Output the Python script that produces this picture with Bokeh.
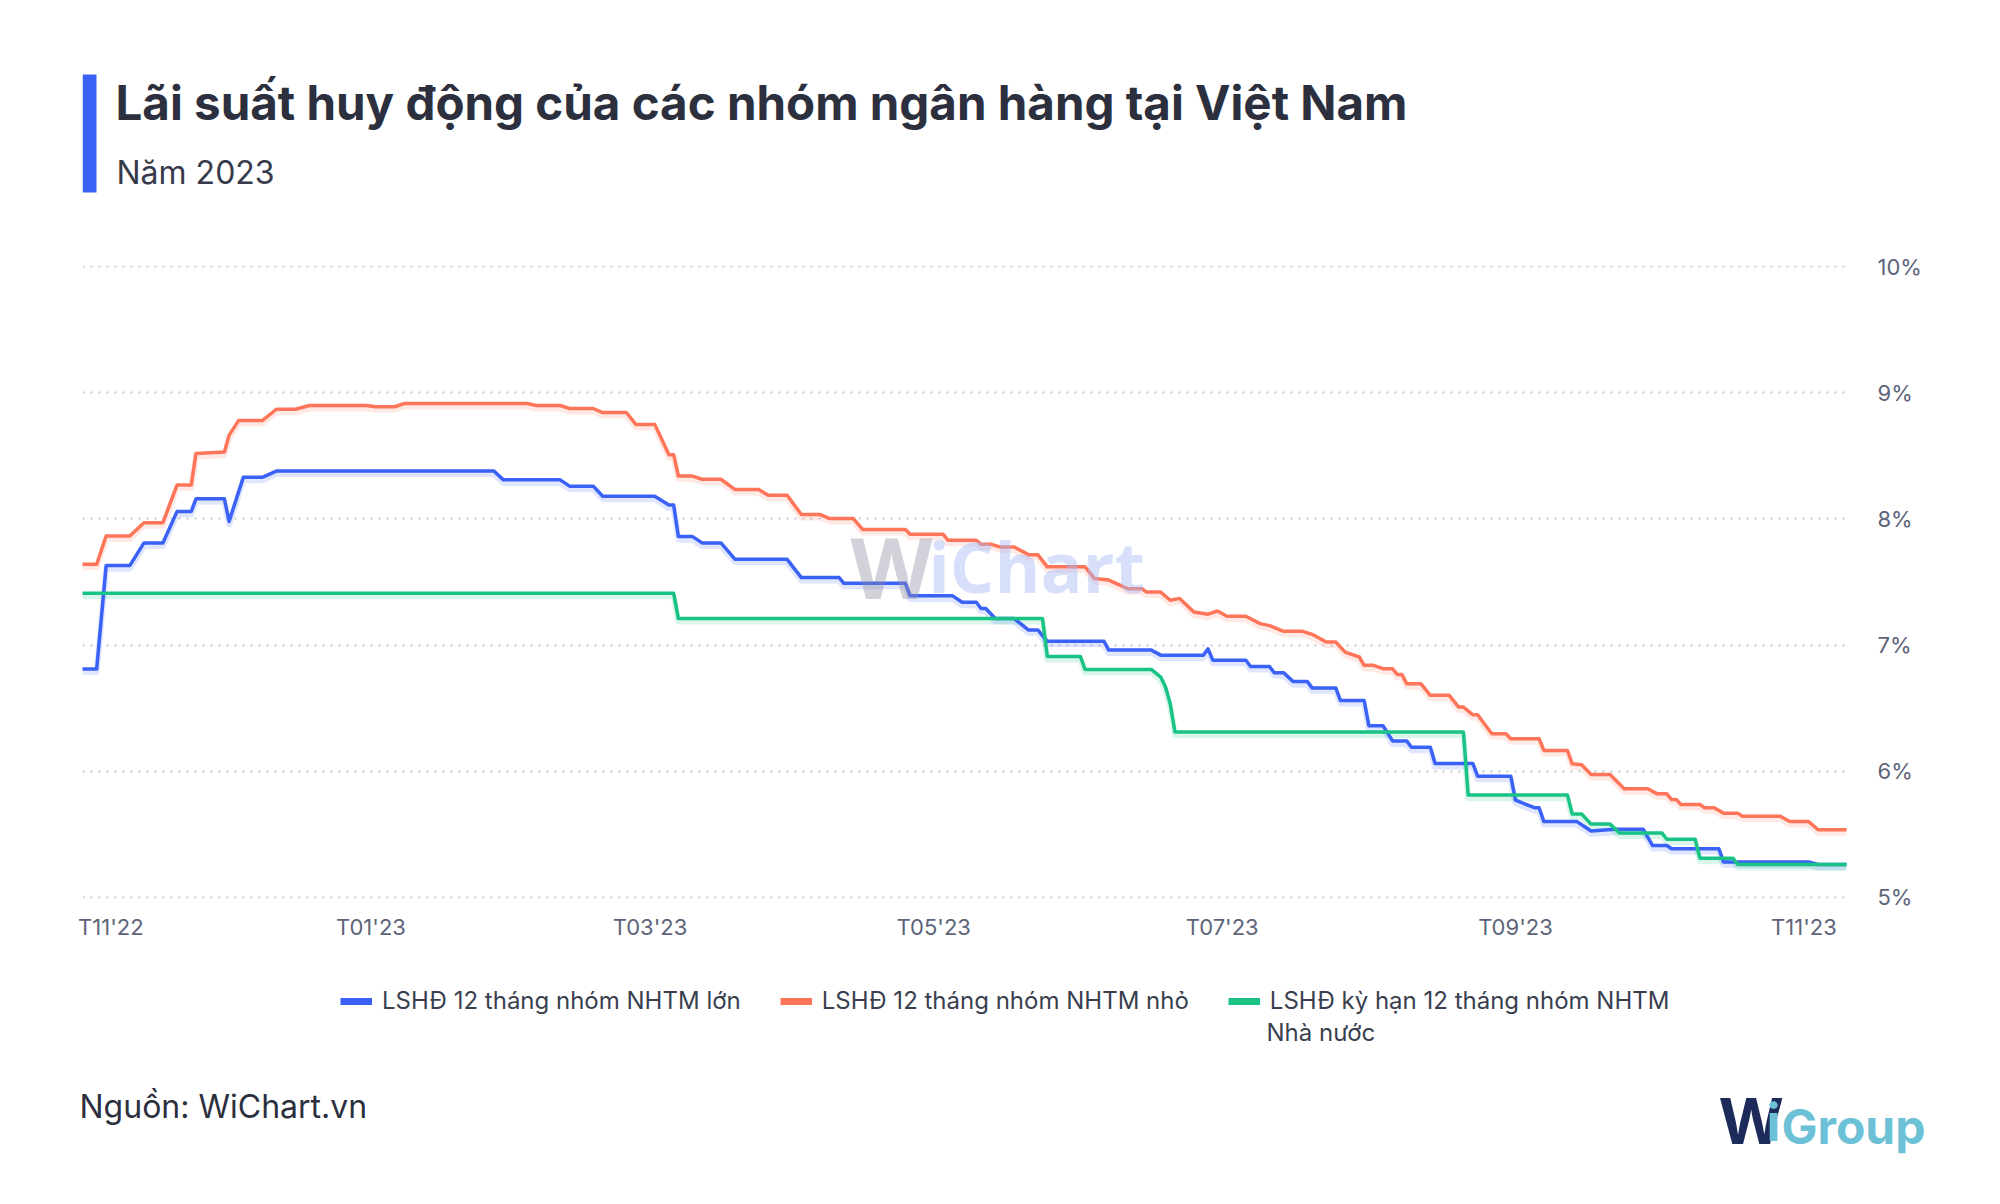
import pandas as pd
from bokeh.plotting import figure
from bokeh.layouts import column, row
from bokeh.models import (Range1d, FixedTicker, PrintfTickFormatter, Legend, LegendItem,
                          Label, BoxAnnotation)
from bokeh.embed import file_html
from bokeh.resources import INLINE

START = "2022-11-01"

# LSHĐ 12 tháng nhóm NHTM lớn
big_dates = ["2022-11-01", "2022-11-04", "2022-11-06", "2022-11-11", "2022-11-14", "2022-11-18",
             "2022-11-21", "2022-11-24", "2022-11-25", "2022-12-01", "2022-12-02", "2022-12-05",
             "2022-12-09", "2022-12-12", "2023-01-27", "2023-01-29", "2023-02-10", "2023-02-12",
             "2023-02-17", "2023-02-19", "2023-03-02", "2023-03-05", "2023-03-06", "2023-03-07",
             "2023-03-10", "2023-03-12", "2023-03-16", "2023-03-19", "2023-03-30", "2023-04-02",
             "2023-04-10", "2023-04-11", "2023-04-24", "2023-04-25", "2023-05-04", "2023-05-06",
             "2023-05-09", "2023-05-10", "2023-05-11", "2023-05-13", "2023-05-17", "2023-05-20",
             "2023-05-22", "2023-05-24", "2023-06-05", "2023-06-06", "2023-06-15", "2023-06-17",
             "2023-06-26", "2023-06-27", "2023-06-28", "2023-07-05", "2023-07-06", "2023-07-10",
             "2023-07-11", "2023-07-13", "2023-07-15", "2023-07-18", "2023-07-19", "2023-07-24",
             "2023-07-25", "2023-07-30", "2023-07-31", "2023-08-03", "2023-08-05", "2023-08-08",
             "2023-08-09", "2023-08-13", "2023-08-14", "2023-08-22", "2023-08-23", "2023-08-30",
             "2023-08-31", "2023-09-04", "2023-09-05", "2023-09-06", "2023-09-13", "2023-09-16",
             "2023-09-21", "2023-09-27", "2023-09-29", "2023-10-02", "2023-10-03", "2023-10-13",
             "2023-10-14", "2023-11-01", "2023-11-03", "2023-11-09"]
big_vals = [6.81, 6.81, 7.63, 7.63, 7.81, 7.81,
            8.06, 8.06, 8.16, 8.16, 7.98, 8.33,
            8.33, 8.38, 8.38, 8.31, 8.31, 8.26,
            8.26, 8.18, 8.18, 8.11, 8.11, 7.86,
            7.86, 7.81, 7.81, 7.68, 7.68, 7.535,
            7.535, 7.49, 7.49, 7.39, 7.39, 7.34,
            7.34, 7.29, 7.29, 7.21, 7.21, 7.12,
            7.12, 7.03, 7.03, 6.96, 6.96, 6.92,
            6.92, 6.97, 6.88, 6.88, 6.83, 6.83,
            6.78, 6.78, 6.71, 6.71, 6.66, 6.66,
            6.56, 6.56, 6.36, 6.36, 6.24, 6.24,
            6.19, 6.19, 6.06, 6.06, 5.96, 5.96,
            5.77, 5.71, 5.71, 5.60, 5.60, 5.525,
            5.54, 5.54, 5.41, 5.41, 5.385, 5.385,
            5.28, 5.28, 5.26, 5.26]

# LSHĐ 12 tháng nhóm NHTM nhỏ
small_dates = ["2022-11-01", "2022-11-04", "2022-11-06", "2022-11-11", "2022-11-14", "2022-11-18",
               "2022-11-21", "2022-11-24", "2022-11-25", "2022-12-01", "2022-12-02", "2022-12-04",
               "2022-12-09", "2022-12-12", "2022-12-16", "2022-12-19", "2022-12-31", "2023-01-02",
               "2023-01-06", "2023-01-08", "2023-02-03", "2023-02-05", "2023-02-10", "2023-02-12",
               "2023-02-17", "2023-02-19", "2023-02-24", "2023-02-26", "2023-03-02", "2023-03-05",
               "2023-03-06", "2023-03-07", "2023-03-10", "2023-03-12", "2023-03-16", "2023-03-19",
               "2023-03-24", "2023-03-26", "2023-03-30", "2023-04-02", "2023-04-06", "2023-04-08",
               "2023-04-13", "2023-04-15", "2023-04-24", "2023-04-25", "2023-05-02", "2023-05-03",
               "2023-05-09", "2023-05-10", "2023-05-12", "2023-05-14", "2023-05-17", "2023-05-18",
               "2023-05-20", "2023-05-22", "2023-05-24", "2023-06-01", "2023-06-03", "2023-06-06",
               "2023-06-10", "2023-06-13", "2023-06-14", "2023-06-17", "2023-06-19", "2023-06-21",
               "2023-06-24", "2023-06-27", "2023-06-29", "2023-07-01", "2023-07-05", "2023-07-08",
               "2023-07-10", "2023-07-13", "2023-07-17", "2023-07-19", "2023-07-22", "2023-07-24",
               "2023-07-26", "2023-07-29", "2023-07-30", "2023-08-01", "2023-08-03", "2023-08-05",
               "2023-08-06", "2023-08-07", "2023-08-08", "2023-08-11", "2023-08-13", "2023-08-17",
               "2023-08-19", "2023-08-20", "2023-08-22", "2023-08-23", "2023-08-26", "2023-08-29",
               "2023-08-30", "2023-09-05", "2023-09-06", "2023-09-11", "2023-09-12", "2023-09-14",
               "2023-09-16", "2023-09-20", "2023-09-23", "2023-09-28", "2023-09-30", "2023-10-02",
               "2023-10-03", "2023-10-04", "2023-10-05", "2023-10-09", "2023-10-10", "2023-10-12",
               "2023-10-14", "2023-10-17", "2023-10-18", "2023-10-26", "2023-10-28", "2023-11-01",
               "2023-11-03", "2023-11-09"]
small_vals = [7.64, 7.64, 7.865, 7.865, 7.97, 7.97,
              8.27, 8.27, 8.52, 8.53, 8.665, 8.78,
              8.78, 8.87, 8.87, 8.90, 8.90, 8.89,
              8.89, 8.915, 8.915, 8.90, 8.90, 8.876,
              8.876, 8.844, 8.844, 8.75, 8.75, 8.51,
              8.51, 8.34, 8.34, 8.315, 8.315, 8.233,
              8.233, 8.188, 8.188, 8.035, 8.035, 8.003,
              8.003, 7.916, 7.916, 7.879, 7.879, 7.831,
              7.831, 7.80, 7.80, 7.778, 7.778, 7.757,
              7.717, 7.717, 7.62, 7.62, 7.527, 7.515,
              7.447, 7.447, 7.42, 7.42, 7.355, 7.37,
              7.262, 7.245, 7.27, 7.228, 7.228, 7.17,
              7.154, 7.109, 7.109, 7.085, 7.024, 7.024,
              6.944, 6.905, 6.839, 6.839, 6.813, 6.813,
              6.767, 6.767, 6.694, 6.694, 6.601, 6.601,
              6.508, 6.508, 6.447, 6.447, 6.297, 6.297,
              6.257, 6.257, 6.164, 6.164, 6.058, 6.05,
              5.974, 5.974, 5.86, 5.86, 5.82, 5.82,
              5.775, 5.775, 5.736, 5.736, 5.71, 5.71,
              5.667, 5.667, 5.643, 5.643, 5.60, 5.60,
              5.535, 5.535]

# LSHĐ kỳ hạn 12 tháng nhóm NHTM Nhà nước
state_dates = ["2022-11-01", "2023-03-06", "2023-03-07", "2023-05-23", "2023-05-24", "2023-05-31",
               "2023-06-01", "2023-06-15", "2023-06-17", "2023-06-18", "2023-06-19", "2023-06-20",
               "2023-08-20", "2023-08-21", "2023-09-11", "2023-09-12", "2023-09-14", "2023-09-16",
               "2023-09-20", "2023-09-22", "2023-10-01", "2023-10-02", "2023-10-08", "2023-10-09",
               "2023-10-16", "2023-10-17", "2023-11-09"]
state_vals = [7.41, 7.41, 7.21, 7.21, 6.91, 6.91,
              6.807, 6.807, 6.746, 6.667, 6.535, 6.31,
              6.31, 5.81, 5.81, 5.66, 5.66, 5.58,
              5.58, 5.51, 5.51, 5.46, 5.46, 5.31,
              5.31, 5.26, 5.26]

# legend names (the last one wraps onto a second line)
series_names = ["LSHĐ 12 tháng nhóm NHTM lớn",
                "LSHĐ 12 tháng nhóm NHTM nhỏ",
                "LSHĐ kỳ hạn 12 tháng nhóm NHTM"]
series_name_wrap = "Nhà nước"
series_colors = ["#3b62f6", "#ff7559", "#19c384"]

tick_dates = ["2022-11-07", "2023-01-01", "2023-03-01", "2023-04-30",
              "2023-06-30", "2023-08-31", "2023-10-31"]
tick_labels = ["T11'22", "T01'23", "T03'23", "T05'23", "T07'23", "T09'23", "T11'23"]
y_ticks = [5, 6, 7, 8, 9, 10]
x_end_date = "2023-11-09"

title_text = "Lãi suất huy động của các nhóm ngân hàng tại Việt Nam"
subtitle_text = "Năm 2023"
source_text = "Nguồn: WiChart.vn"


def days(ds):
    return [int(v) for v in (pd.to_datetime(ds) - pd.Timestamp(START)).days]


FONT = "Inter"
AXIS_COLOR = "#5d6479"
TEXT_DARK = "#2c2f3e"
W = 1984
FL, FR = 82, 1846          # chart frame edges


def blank(h, x0, x1):
    f = figure(width=W, height=h, output_backend="svg", toolbar_location=None,
               x_range=Range1d(x0, x1), y_range=Range1d(0, h),
               x_axis_type=None, y_axis_type=None, min_border=0)
    f.outline_line_color = None
    f.background_fill_color = "white"
    f.border_fill_color = "white"
    f.xgrid.visible = False
    f.ygrid.visible = False
    return f


# ---------------- header ----------------
HH = 240
head = blank(HH, FL, FR)
head.add_layout(BoxAnnotation(left=82, right=96, top=HH - 74, bottom=HH - 192,
                              fill_color="#3b62f6", fill_alpha=1, line_color=None))
head.add_layout(Label(x=115, y=138, text=title_text,
                      text_font=FONT, text_font_size="47.5px", text_font_style="bold",
                      text_color=TEXT_DARK, text_baseline="alphabetic"))
head.add_layout(Label(x=116, y=68, text=subtitle_text,
                      text_font=FONT, text_font_size="32px",
                      text_color="#363a4b", text_baseline="alphabetic"))

# ---------------- main chart ----------------
MH = 710
p = figure(width=W, height=MH, output_backend="svg", toolbar_location=None,
           x_range=Range1d(0, days([x_end_date])[0]), y_range=Range1d(4.99, 10.01),
           y_axis_location="right",
           min_border_left=FL, min_border_right=W - FR,
           min_border_top=25, min_border_bottom=MH - 25 - 633)
p.outline_line_color = None
p.background_fill_color = "white"
p.border_fill_color = "white"

SH = 0.024
p.extra_y_ranges = {"shadow": Range1d(4.99 + SH, 10.01 + SH)}

xs_all = [days(big_dates), days(small_dates), days(state_dates)]
ys_all = [big_vals, small_vals, state_vals]

for xs, ys, c in zip(xs_all, ys_all, series_colors):
    p.line(xs, ys, line_color=c, line_width=6, line_alpha=0.16, line_join="round",
           y_range_name="shadow")
for xs, ys, c in zip(xs_all, ys_all, series_colors):
    p.line(xs, ys, line_color=c, line_width=3.5, line_join="round", line_cap="round")

tick_pos = days(tick_dates)
p.xaxis.ticker = FixedTicker(ticks=tick_pos)
p.xaxis.major_label_overrides = {t: l for t, l in zip(tick_pos, tick_labels)}
p.yaxis.ticker = FixedTicker(ticks=y_ticks)
p.ygrid.ticker = FixedTicker(ticks=y_ticks)
p.yaxis.formatter = PrintfTickFormatter(format="%d%%")
for ax in (p.xaxis[0], p.yaxis[0]):
    ax.axis_line_color = None
    ax.major_tick_line_color = None
    ax.minor_tick_line_color = None
    ax.major_label_text_font = FONT
    ax.major_label_text_font_size = "22px"
    ax.major_label_text_color = AXIS_COLOR
p.xaxis.major_label_standoff = 9
p.yaxis.major_label_standoff = 25
p.xgrid.visible = False
p.ygrid.grid_line_color = "#c5c9d3"
p.ygrid.grid_line_width = 2
p.ygrid.grid_line_dash = "2 6"

# watermark
p.add_layout(Label(x=768, y=333, x_units="screen", y_units="screen", text="W",
                   text_font="Open Sans", text_font_size="85px", text_font_style="bold",
                   text_color="#8e8fa6", text_alpha=0.4, text_baseline="alphabetic"))
p.add_layout(Label(x=846, y=333, x_units="screen", y_units="screen", text="iChart",
                   text_font="Open Sans", text_font_size="70px", text_font_style="bold",
                   text_color="#a7b7f6", text_alpha=0.45, text_baseline="alphabetic"))

# ---------------- footer ----------------
FH = 1188 - HH - MH
foot = blank(FH, 0, W)
items = []
for name, c in zip(series_names, series_colors):
    r = foot.line([float("nan")], [float("nan")], line_color=c, line_width=7)
    items.append(LegendItem(label=name, renderers=[r]))
legend = Legend(items=items, orientation="horizontal", location=(340, 173),
                padding=0, margin=0, spacing=39, label_standoff=10,
                glyph_width=32, glyph_height=26, border_line_color=None,
                background_fill_alpha=0, label_text_font=FONT,
                label_text_font_size="24px", label_text_color="#3a3f4f",
                label_text_line_height=1.25)
foot.add_layout(legend)
foot.add_layout(Label(x=1266, y=156, text=series_name_wrap,
                      text_font=FONT, text_font_size="24px",
                      text_color="#3a3f4f", text_baseline="alphabetic"))
foot.add_layout(Label(x=79, y=82, text=source_text,
                      text_font=FONT, text_font_size="32px",
                      text_color=TEXT_DARK, text_baseline="alphabetic"))
foot.add_layout(Label(x=1718, y=68, text="W",
                      text_font=FONT, text_font_size="63px", text_font_style="bold",
                      text_color="#1c2b5a", text_baseline="alphabetic"))
foot.add_layout(Label(x=1766, y=66, text="i",
                      text_font=FONT, text_font_size="52px", text_font_style="bold",
                      text_color="#6cc1d6", text_baseline="alphabetic"))
foot.add_layout(Label(x=1781, y=62, text="Group",
                      text_font=FONT, text_font_size="48px", text_font_style="bold",
                      text_color="#6cc1d6", text_baseline="alphabetic"))

layout = column(head, p, row(foot), spacing=0)
open("out.html", "w").write(file_html(layout, INLINE))
